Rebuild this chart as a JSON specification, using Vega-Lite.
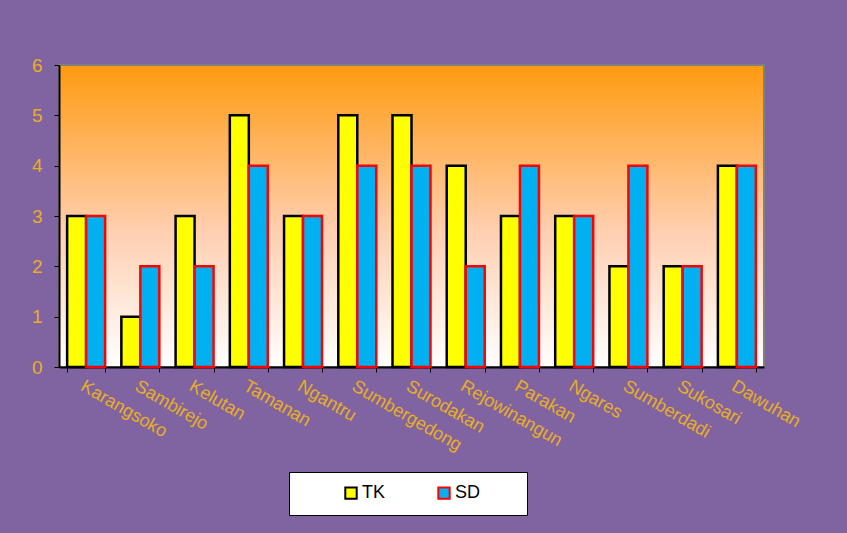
{
  "$schema": "https://vega.github.io/schema/vega-lite/v6.json",
  "width": 705,
  "height": 302,
  "autosize": {"type": "none"},
  "padding": {"left": 59, "top": 65, "right": 83, "bottom": 166},
  "background": "#8064A2",
  "config": {
    "view": {
      "fill": {"gradient": "linear", "x1": 0, "y1": 0, "x2": 0, "y2": 1, "stops": [{"offset": 0, "color": "#FF9A10"}, {"offset": 0.55, "color": "#FFCFB0"}, {"offset": 1, "color": "#FFFFFF"}]},
      "stroke": "#808080",
      "strokeWidth": 2
    },
    "font": "Liberation Sans"
  },
  "data": {
    "values": [
      {"desa": "Karangsoko", "seri": "TK", "nilai": 3}, {"desa": "Karangsoko", "seri": "SD", "nilai": 3},
      {"desa": "Sambirejo", "seri": "TK", "nilai": 1}, {"desa": "Sambirejo", "seri": "SD", "nilai": 2},
      {"desa": "Kelutan", "seri": "TK", "nilai": 3}, {"desa": "Kelutan", "seri": "SD", "nilai": 2},
      {"desa": "Tamanan", "seri": "TK", "nilai": 5}, {"desa": "Tamanan", "seri": "SD", "nilai": 4},
      {"desa": "Ngantru", "seri": "TK", "nilai": 3}, {"desa": "Ngantru", "seri": "SD", "nilai": 3},
      {"desa": "Sumbergedong", "seri": "TK", "nilai": 5}, {"desa": "Sumbergedong", "seri": "SD", "nilai": 4},
      {"desa": "Surodakan", "seri": "TK", "nilai": 5}, {"desa": "Surodakan", "seri": "SD", "nilai": 4},
      {"desa": "Rejowinangun", "seri": "TK", "nilai": 4}, {"desa": "Rejowinangun", "seri": "SD", "nilai": 2},
      {"desa": "Parakan", "seri": "TK", "nilai": 3}, {"desa": "Parakan", "seri": "SD", "nilai": 4},
      {"desa": "Ngares", "seri": "TK", "nilai": 3}, {"desa": "Ngares", "seri": "SD", "nilai": 3},
      {"desa": "Sumberdadi", "seri": "TK", "nilai": 2}, {"desa": "Sumberdadi", "seri": "SD", "nilai": 4},
      {"desa": "Sukosari", "seri": "TK", "nilai": 2}, {"desa": "Sukosari", "seri": "SD", "nilai": 2},
      {"desa": "Dawuhan", "seri": "TK", "nilai": 4}, {"desa": "Dawuhan", "seri": "SD", "nilai": 4}
    ]
  },
  "mark": {"type": "bar", "strokeWidth": 2.5},
  "encoding": {
    "x": {
      "field": "desa", "type": "nominal", "sort": null,
      "scale": {"paddingInner": 0.3, "paddingOuter": 0.15},
      "axis": {
        "title": null, "labelAngle": 30, "labelAlign": "left", "labelBaseline": "top",
        "labelColor": "#E8AE22", "labelFontSize": 18, "labelPadding": 5, "labelDx": 8,
        "tickBand": "extent", "tickColor": "#000000", "tickSize": 5,
        "domainColor": "#000000", "domainWidth": 2, "labelOverlap": false
      }
    },
    "xOffset": {"field": "seri", "type": "nominal", "sort": ["TK", "SD"], "scale": {"paddingInner": 0, "paddingOuter": 0}},
    "y": {
      "field": "nilai", "type": "quantitative",
      "scale": {"domain": [0, 6], "nice": false},
      "axis": {
        "title": null, "values": [0, 1, 2, 3, 4, 5, 6], "grid": false,
        "labelColor": "#E8AE22", "labelFontSize": 19, "labelPadding": 12,
        "tickColor": "#000000", "tickSize": 5, "domainColor": "#000000", "domainWidth": 2
      }
    },
    "color": {
      "field": "seri", "type": "nominal", "sort": ["TK", "SD"],
      "scale": {"domain": ["TK", "SD"], "range": ["#FFFF00", "#00B0F0"]},
      "legend": {
        "title": "\u00a0", "titleOrient": "right", "titleFontSize": 18, "titlePadding": 35,
        "orient": "none", "direction": "horizontal",
        "legendX": 230, "legendY": 407,
        "fillColor": "#FFFFFF", "strokeColor": "#000000", "padding": 12,
        "symbolType": "square", "symbolSize": 130, "symbolStrokeWidth": 2, "symbolOffset": 41,
        "labelFontSize": 18, "labelColor": "#000000", "labelOffset": 2, "columnPadding": 8
      }
    },
    "stroke": {
      "field": "seri", "type": "nominal", "sort": ["TK", "SD"],
      "scale": {"domain": ["TK", "SD"], "range": ["#000000", "#FF0000"]}
    }
  }
}
